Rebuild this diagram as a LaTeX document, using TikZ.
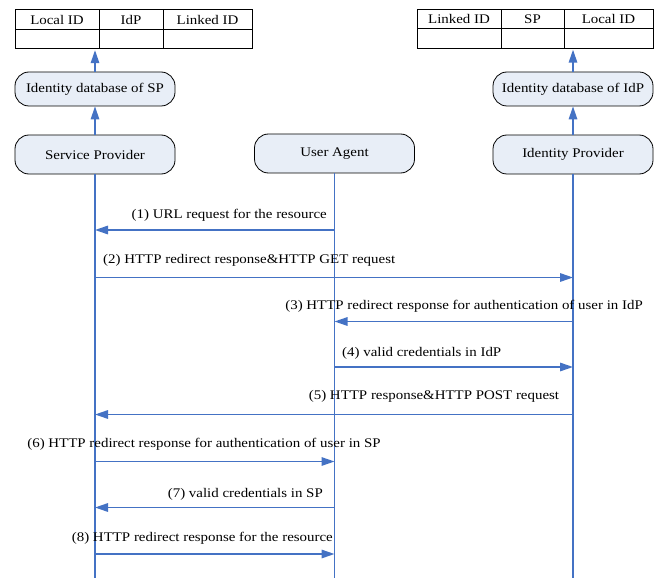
\documentclass[tikz,border=0pt]{standalone}
\usepackage{fontspec}
\setmainfont{Liberation Serif}[FakeStretch=1.13]
\usepackage{tikz}
\usetikzlibrary{calc,shapes,positioning}
\usetikzlibrary{arrows.meta}
\definecolor{lineblue}{RGB}{68,114,196}
\definecolor{boxfill}{RGB}{232,238,247}
\tikzset{>={Triangle[length=13pt,width=8.5pt]}}

\begin{document}
\begin{tikzpicture}[x=1pt,y=-1pt,font=\fontsize{13.2}{15}\selectfont]
      \useasboundingbox (0,0) rectangle (655,580);
        \tikzstyle{pnode} = [draw=black, line width=0.8pt, fill=boxfill, rounded corners=14pt, minimum width=160pt, align=center]
        \tikzstyle{cell} = [draw=black, line width=0.9pt, rectangle, minimum height=19.5pt, inner sep=0pt]
        \tikzstyle{bline} = [draw=lineblue, line width=1.5pt]
        \tikzstyle{msg} = [bline, -{Triangle[length=13pt,width=8.5pt,fill=lineblue]}]
        \tikzstyle{lbl} = [inner sep=0pt]

        % parties
        \node[pnode, minimum height=39pt] (sp) at (95,154.5) {Service Provider};
        \node[pnode, minimum height=39pt] (ua) at (334.5,153.5) {User Agent};
        \node[pnode, minimum height=39pt] (idp) at (573,154.5) {Identity Provider};

        % identity databases
        \node[pnode, minimum height=34pt] (dbsp) at (95,89) {Identity database of SP};
        \node[pnode, minimum height=34pt] (dbidp) at (573,89) {Identity database of IdP};

        % tables
        \node[cell, minimum width=84pt] (tl1) at (57,19.5) {Local ID};
        \node[cell, minimum width=64pt] (tl2) at (131,19.5) {IdP};
        \node[cell, minimum width=89pt] (tl3) at (207.5,19.5) {Linked ID};
        \node[cell, minimum width=84pt] (bl1) at (57,39) {};
        \node[cell, minimum width=64pt] (bl2) at (131,39) {};
        \node[cell, minimum width=89pt] (bl3) at (207.5,39) {};

        \node[cell, minimum width=84pt] (tr1) at (459,19) {Linked ID};
        \node[cell, minimum width=63pt] (tr2) at (532.5,19) {SP};
        \node[cell, minimum width=89pt] (tr3) at (608.5,19) {Local ID};
        \node[cell, minimum width=84pt] (br1) at (459,38.5) {};
        \node[cell, minimum width=63pt] (br2) at (532.5,38.5) {};
        \node[cell, minimum width=89pt] (br3) at (608.5,38.5) {};

        \draw[msg] (sp) -- (dbsp);
        \draw[msg] (dbsp) -- ($(dbsp |- bl2.south)+(0,1)$);
        \draw[msg] (idp) -- (dbidp);
        \draw[msg] (dbidp) -- ($(dbidp |- br3.south)+(0,1)$);

        % lifelines
        \coordinate (end) at (0,578);
        \path[bline]
        (sp.south) edge (sp |- end)
        (ua.south) edge (ua |- end)
        (idp.south) edge (idp |- end)
        ;

        % messages
        \coordinate (m1) at (0,230);
        \coordinate (m2) at (0,277.5);
        \coordinate (m3) at (0,321.5);
        \coordinate (m4) at (0,367);
        \coordinate (m5) at (0,414.5);
        \coordinate (m6) at (0,461.5);
        \coordinate (m7) at (0,507.5);
        \coordinate (m8) at (0,554);
        \draw[msg] (ua |- m1) -- (sp |- m1);
        \draw[msg] (sp |- m2) -- (idp |- m2);
        \draw[msg] (idp |- m3) -- (ua |- m3);
        \draw[msg] (ua |- m4) -- (idp |- m4);
        \draw[msg] (idp |- m5) -- (sp |- m5);
        \draw[msg] (sp |- m6) -- (ua |- m6);
        \draw[msg] (ua |- m7) -- (sp |- m7);
        \draw[msg] (sp |- m8) -- (ua |- m8);

        \node[lbl, anchor=base east] (l1) at (327,218) {(1) URL request for the resource};
        \node[lbl, anchor=base west] (l2) at (103,263) {(2) HTTP redirect response\&HTTP GET request};
        \node[lbl, anchor=base east] (l3) at (643,309) {(3) HTTP redirect response for authentication of user in IdP};
        \node[lbl, anchor=base west] (l4) at (342,356) {(4) valid credentials in IdP};
        \node[lbl, anchor=base] (l5) at (434,399) {(5) HTTP response\&HTTP POST request};
        \node[lbl, anchor=base] (l6) at (204,447) {(6) HTTP redirect response for authentication of user in SP};
        \node[lbl, anchor=base east] (l7) at (323,497) {(7) valid credentials in SP};
        \node[lbl, anchor=base east] (l8) at (333,541) {(8) HTTP redirect response for the resource};
\end{tikzpicture}
\end{document}
